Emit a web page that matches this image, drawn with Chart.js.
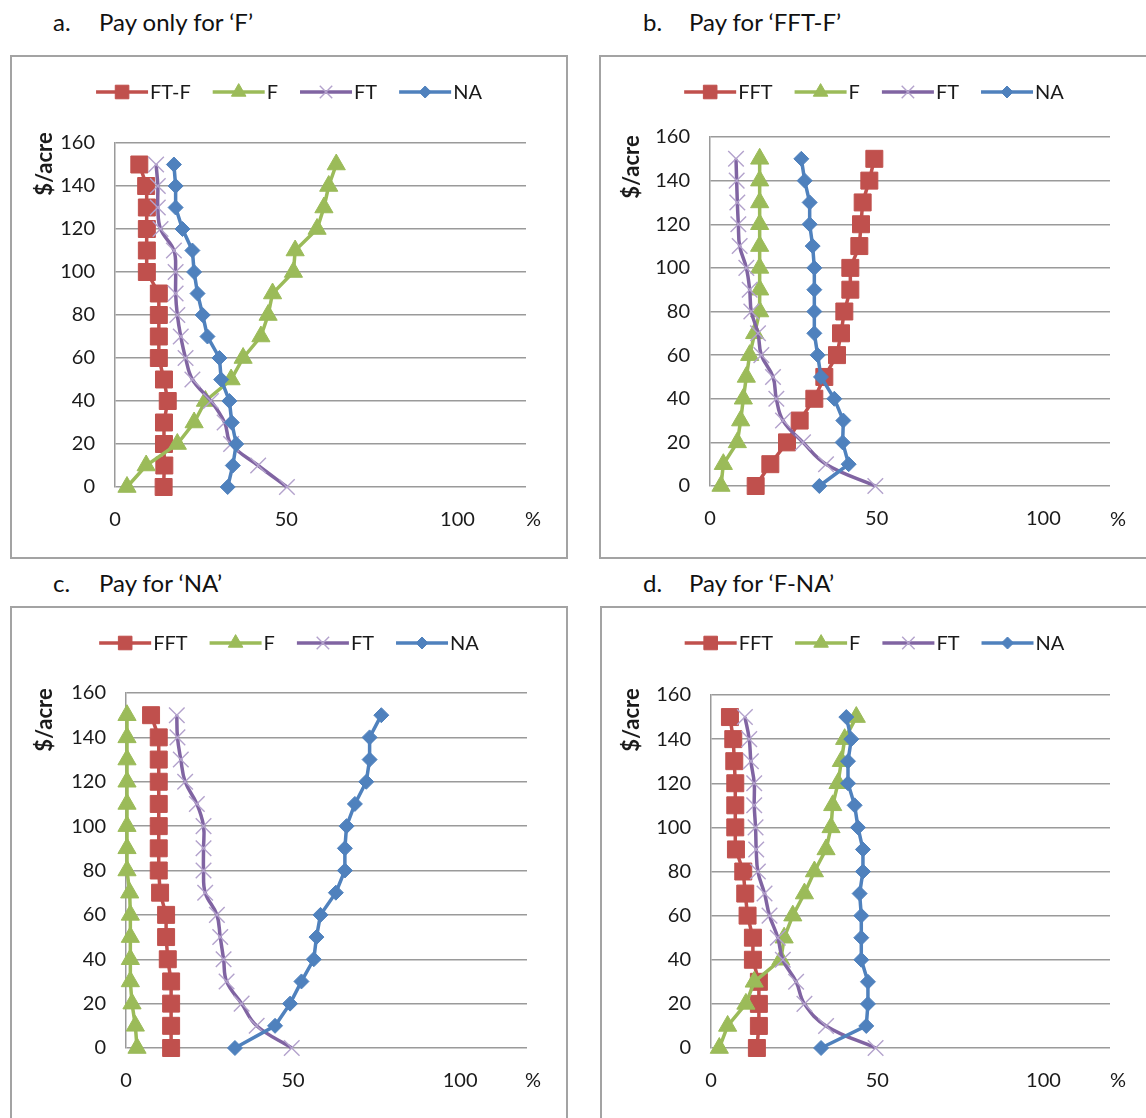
<!DOCTYPE html>
<html>
<head>
<meta charset="utf-8">
<script src="https://cdn.jsdelivr.net/npm/chart.js@4.4.1/dist/chart.umd.min.js"></script>
<style>
  html, body { margin: 0; padding: 0; background: #fff; }
  body { width: 1146px; height: 1118px; position: relative; overflow: hidden; font-family: Lato, "Open Sans", sans-serif; }
  .box { position: absolute; box-sizing: border-box; border: 2px solid #a3a3a3; background: #fff; }
  .box canvas { position: absolute; left: 0; top: 0; }
  .title { position: absolute; font-size: 24px; color: #111; white-space: pre; line-height: 28px; }
</style>
</head>
<body>
<div class="title" style="left:53px;top:8px">a.</div>
<div class="title" style="left:99px;top:8px">Pay only for ‘F’</div>
<div class="title" style="left:643px;top:8px">b.</div>
<div class="title" style="left:689px;top:8px">Pay for ‘FFT-F’</div>
<div class="title" style="left:53px;top:569px">c.</div>
<div class="title" style="left:99px;top:569px">Pay for ‘NA’</div>
<div class="title" style="left:643px;top:569px">d.</div>
<div class="title" style="left:689px;top:569px">Pay for ‘F-NA’</div>

<div class="box" style="left:10px;top:55px;width:558px;height:504px"><canvas id="chartA"></canvas></div>
<div class="box" style="left:599px;top:55px;width:550px;height:504px"><canvas id="chartB"></canvas></div>
<div class="box" style="left:10px;top:606px;width:558px;height:520px"><canvas id="chartC"></canvas></div>
<div class="box" style="left:600px;top:606px;width:549px;height:520px"><canvas id="chartD"></canvas></div>

<script>
// Bid levels on the y axis ($/acre)
const prices = [0, 10, 20, 30, 40, 50, 60, 70, 80, 90, 100, 110, 120, 130, 140, 150];
const xTicks = [0, 50, 100];
const yTicks = [0, 20, 40, 60, 80, 100, 120, 140, 160];

// Series names
const namesA = ['FT-F', 'F', 'FT', 'NA'];
const namesBCD = ['FFT', 'F', 'FT', 'NA'];

// a. Pay only for 'F'  (% of respondents at each price)
const aFTF = [14.2, 14.4, 14.3, 14.3, 15.4, 14.3, 12.8, 12.8, 12.8, 12.8, 9.3, 9.3, 9.3, 9.3, 9.1, 7.1];
const aF   = [3.5, 9.1, 18.2, 23.1, 26.4, 33.9, 37.4, 42.6, 44.7, 46.0, 52.1, 52.6, 59.0, 61.0, 62.4, 64.6];
const aFT  = [50.2, 41.8, 33.9, 32.0, 28.0, 22.6, 20.6, 19.2, 18.2, 17.7, 17.7, 17.2, 13.3, 12.5, 12.5, 12.0];
const aNA  = [32.9, 34.4, 35.4, 34.1, 33.4, 31.0, 30.5, 27.0, 25.6, 24.1, 23.1, 22.6, 19.7, 17.7, 17.7, 17.2];

// b. Pay for 'FFT-F'
const bFFT = [13.7, 18.1, 23.1, 26.9, 31.3, 34.3, 38.1, 39.3, 40.3, 42.1, 42.1, 44.8, 45.3, 45.8, 47.8, 49.3];
const bF   = [3.3, 4.0, 8.2, 9.2, 10.0, 10.9, 11.9, 13.4, 14.9, 14.9, 14.9, 14.9, 14.9, 14.9, 14.9, 14.9];
const bFT  = [49.6, 34.8, 27.9, 21.9, 19.9, 18.9, 15.4, 14.4, 12.4, 11.9, 10.9, 8.9, 8.5, 8.2, 8.0, 7.8];
const bNA  = [32.8, 41.6, 39.8, 40.0, 37.3, 33.3, 32.3, 31.3, 31.3, 31.3, 31.3, 30.8, 29.9, 29.9, 28.4, 27.4];

// c. Pay for 'NA'
const cFFT = [13.5, 13.5, 13.5, 13.5, 12.5, 12.0, 12.0, 10.2, 9.8, 9.8, 9.8, 9.8, 9.8, 9.8, 9.8, 7.5];
const cF   = [3.3, 2.8, 1.8, 1.3, 1.3, 1.3, 1.3, 1.1, 0.3, 0.3, 0.3, 0.3, 0.3, 0.3, 0.3, 0.3];
const cFT  = [49.6, 39.1, 34.6, 30.1, 29.2, 28.2, 27.2, 23.7, 23.2, 23.2, 23.2, 21.2, 17.7, 16.4, 15.4, 15.2];
const cNA  = [32.6, 44.6, 49.1, 52.5, 56.2, 57.0, 58.2, 62.8, 65.5, 65.5, 66.0, 68.5, 71.9, 72.9, 72.9, 76.4];

// d. Pay for 'F-NA'
const dFFT = [13.8, 14.4, 14.4, 14.4, 12.6, 12.6, 11.0, 10.3, 9.7, 7.5, 7.3, 7.3, 7.3, 7.0, 6.7, 5.7];
const dF   = [2.5, 5.0, 10.5, 13.0, 21.0, 22.0, 24.6, 28.1, 31.1, 34.6, 36.1, 36.6, 38.2, 39.2, 40.2, 43.7];
const dFT  = [49.5, 34.6, 28.1, 25.6, 21.6, 20.1, 17.6, 16.1, 14.1, 13.6, 13.4, 13.0, 13.0, 12.0, 11.5, 10.2];
const dNA  = [33.1, 46.7, 47.2, 47.2, 45.2, 45.2, 45.2, 44.7, 45.7, 45.7, 44.2, 43.2, 41.2, 41.2, 42.2, 40.7];

// Excel 2007 style look for the four series (same order in every panel)
const styles = [
  { color: '#C0504D', marker: 'rect',     radius: 12,   fill: '#C0504D', stroke: '#C0504D', markerWidth: 1,   tension: 0 },
  { color: '#9BBB59', marker: 'triangle', radius: 10.5, fill: '#9BBB59', stroke: '#9BBB59', markerWidth: 1,   tension: 0 },
  { color: '#8064A2', marker: 'crossRot', radius: 11,   fill: '#B7A7CE', stroke: '#B3A2CC', markerWidth: 1.4, tension: 0.4 },
  { color: '#4F81BD', marker: 'rectRot',  radius: 7.5,  fill: '#4F81BD', stroke: '#4F81BD', markerWidth: 1,   tension: 0 }
];

const TEXT = '#1a1a1a';
const GRID = '#9a9a9a';
const FONT = 'Lato, "Open Sans", sans-serif';

// page geometry for each panel: canvas origin/size, plot area edges, extra labels
const panels = [
  { id: 'chartA', canvas: [12, 57, 554, 500],  plot: [115, 143, 526, 487],  names: namesA,   values: [aFTF, aF, aFT, aNA], legendY: 92,  yTitle: [45, 164],  pct: [533, 520] },
  { id: 'chartB', canvas: [601, 57, 546, 500], plot: [710, 137, 1110, 486], names: namesBCD, values: [bFFT, bF, bFT, bNA], legendY: 92,  yTitle: [632, 167], pct: [1118, 520] },
  { id: 'chartC', canvas: [12, 608, 554, 516], plot: [126, 693, 527, 1048], names: namesBCD, values: [cFFT, cF, cFT, cNA], legendY: 643, yTitle: [45, 720],  pct: [533, 1081] },
  { id: 'chartD', canvas: [602, 608, 545, 516], plot: [711, 695, 1110, 1048], names: namesBCD, values: [dFFT, dF, dFT, dNA], legendY: 643, yTitle: [632, 720], pct: [1118, 1081] }
];

function drawMarker(ctx, shape, x, y, r, fill, stroke, lw) {
  ctx.save();
  ctx.beginPath();
  if (shape === 'rect') {
    const s = r * Math.SQRT1_2;
    ctx.rect(x - s, y - s, 2 * s, 2 * s);
  } else if (shape === 'triangle') {
    ctx.moveTo(x, y - r);
    ctx.lineTo(x + r * 0.866, y + r * 0.5);
    ctx.lineTo(x - r * 0.866, y + r * 0.5);
    ctx.closePath();
  } else if (shape === 'rectRot') {
    ctx.moveTo(x, y - r);
    ctx.lineTo(x + r, y);
    ctx.lineTo(x, y + r);
    ctx.lineTo(x - r, y);
    ctx.closePath();
  } else {
    const d = r * Math.SQRT1_2;
    ctx.moveTo(x - d, y - d);
    ctx.lineTo(x + d, y + d);
    ctx.moveTo(x + d, y - d);
    ctx.lineTo(x - d, y + d);
  }
  if (shape !== 'crossRot') {
    ctx.fillStyle = fill;
    ctx.fill();
  }
  ctx.strokeStyle = stroke;
  ctx.lineWidth = lw;
  ctx.stroke();
  ctx.restore();
}

// legend, "$/acre" and "%" labels drawn on top of each chart
const extrasPlugin = {
  id: 'extras',
  afterDraw(chart, args, opts) {
    const ctx = chart.ctx;
    const ox = opts.origin[0], oy = opts.origin[1];

    // legend: line with marker, then name
    ctx.save();
    ctx.font = '20px ' + FONT;
    ctx.textBaseline = 'middle';
    ctx.textAlign = 'left';
    const lineLen = 52, textGap = 2, itemGap = 22;
    const sets = chart.data.datasets;
    const widths = sets.map(ds => lineLen + textGap + ctx.measureText(ds.label).width);
    const total = widths.reduce((a, b) => a + b, 0) + itemGap * (sets.length - 1);
    let x = (chart.width - total) / 2;
    const y = opts.legendY - oy;
    sets.forEach((ds, i) => {
      const st = styles[i];
      ctx.strokeStyle = st.color;
      ctx.lineWidth = 3.5;
      ctx.beginPath();
      ctx.moveTo(x, y);
      ctx.lineTo(x + lineLen, y);
      ctx.stroke();
      drawMarker(ctx, st.marker, x + lineLen / 2, y, st.radius * 0.8, st.fill, st.stroke, st.markerWidth);
      ctx.fillStyle = TEXT;
      ctx.fillText(ds.label, x + lineLen + textGap, y + 1);
      x += widths[i] + itemGap;
    });

    // "%" at the end of the x axis
    ctx.textAlign = 'center';
    ctx.fillText('%', opts.pct[0] - ox, opts.pct[1] - oy);

    // "$/acre" vertical title
    ctx.translate(opts.yTitle[0] - ox, opts.yTitle[1] - oy);
    ctx.rotate(-Math.PI / 2);
    ctx.font = 'bold 22px ' + FONT;
    ctx.fillText('$/acre', 0, 0);
    ctx.restore();
  }
};

panels.forEach(p => {
  const [cx, cy, cw, ch] = p.canvas;
  const [pl, pt, pr, pb] = p.plot;
  const canvas = document.getElementById(p.id);
  canvas.width = cw;
  canvas.height = ch;

  const datasets = p.names.map((name, i) => {
    const st = styles[i];
    return {
      label: name,
      data: prices.map((price, k) => ({ x: p.values[i][k], y: price })),
      showLine: true,
      borderColor: st.color,
      borderWidth: 3.5,
      tension: st.tension,
      pointStyle: st.marker,
      pointRadius: st.radius,
      pointBackgroundColor: st.fill,
      pointBorderColor: st.stroke,
      pointBorderWidth: st.markerWidth,
      order: p.names.length - i,
      clip: false
    };
  });

  new Chart(canvas.getContext('2d'), {
    type: 'scatter',
    data: { datasets: datasets },
    plugins: [extrasPlugin],
    options: {
      responsive: false,
      animation: false,
      events: [],
      layout: { padding: { top: pt - cy, right: cx + cw - pr, left: 0, bottom: 0 } },
      plugins: {
        legend: { display: false },
        tooltip: { enabled: false },
        extras: { origin: [cx, cy], legendY: p.legendY, yTitle: p.yTitle, pct: p.pct }
      },
      scales: {
        x: {
          type: 'linear',
          min: 0,
          max: 120,
          grid: { display: false, drawTicks: false },
          border: { display: false },
          afterBuildTicks: scale => { scale.ticks = xTicks.map(v => ({ value: v })); },
          ticks: { padding: 21, color: TEXT, font: { family: FONT, size: 20 } },
          afterFit: scale => { scale.height = cy + ch - pb; }
        },
        y: {
          type: 'linear',
          min: 0,
          max: 160,
          grid: { color: GRID, lineWidth: 1.5, drawTicks: false },
          border: { display: true, color: GRID, width: 1.5 },
          afterBuildTicks: scale => { scale.ticks = yTicks.map(v => ({ value: v })); },
          ticks: { padding: 20, color: TEXT, font: { family: FONT, size: 20 } },
          afterFit: scale => { scale.width = pl - cx; }
        }
      }
    }
  });
});
</script>
</body>
</html>
